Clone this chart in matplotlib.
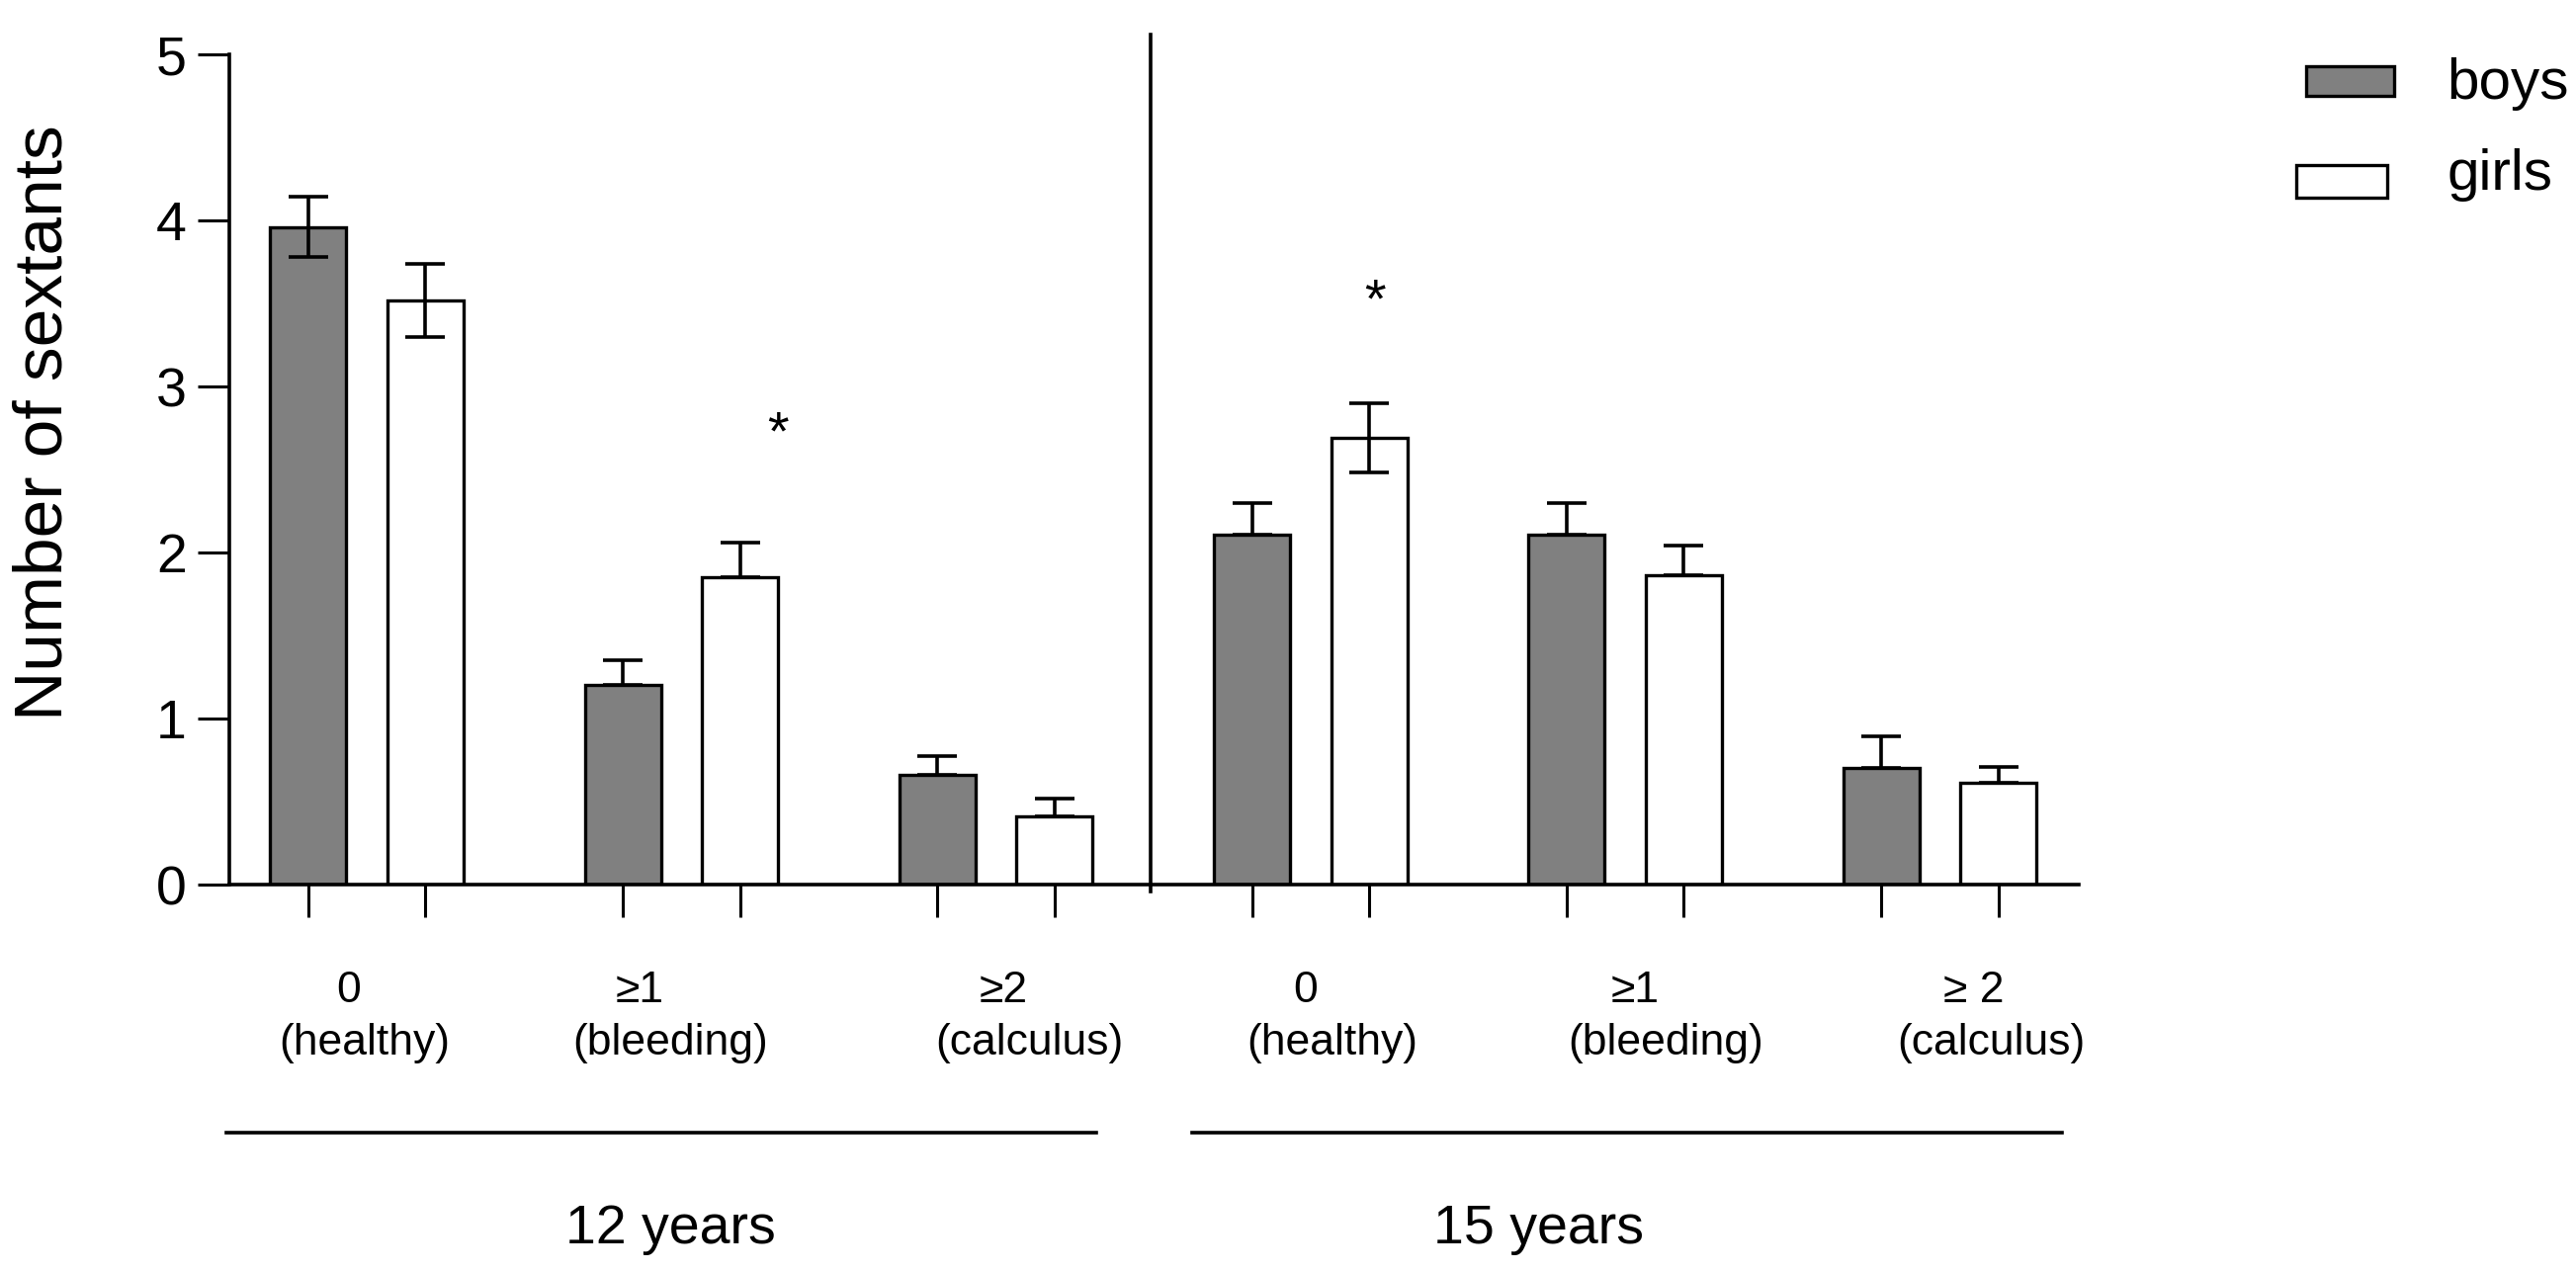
import matplotlib
matplotlib.use("Agg")
import matplotlib.pyplot as plt
from matplotlib.patches import Rectangle
import numpy as np

plt.rcParams['font.family'] = ['Liberation Sans', 'DejaVu Sans']

# ---------------- data ----------------
categories = ["0", "\u22651", "\u22652", "0", "\u22651", "\u2265 2"]
sublabels = ["(healthy)", "(bleeding)", "(calculus)", "(healthy)", "(bleeding)", "(calculus)"]
ages = ["12 years", "15 years"]
series = ["boys", "girls"]
boys = [3.96, 1.20, 0.66, 2.11, 2.11, 0.70]
girls = [3.52, 1.85, 0.41, 2.69, 1.865, 0.615]
boys_err = [0.18, 0.15, 0.115, 0.19, 0.19, 0.195]
girls_err = [0.22, 0.21, 0.11, 0.21, 0.175, 0.095]
boys_two_sided = [True, False, False, False, False, False]
girls_two_sided = [True, False, False, True, False, False]
star_groups = [1, 3]          # girls bars marked with *
star_values = [2.81, 3.61]    # height of the * mark
yticks = [0, 1, 2, 3, 4, 5]

# ---------------- layout (pixels of the 2606x1287 image) ----------------
W, H = 2606, 1287
PX = 318.3          # pixels per group
X0 = 371.0          # pixel x of group 0 centre
AX_L, AX_R, AX_B, AX_T = 232, 2103, 895, 55
PAIR_HALF = 59.25   # half distance between boys and girls bar centres (px)
BAR_W = 77          # bar width (px)
line1_off = [-18, -42, 8, -5, 10, 34]
line2_off = [-2, -11, 34, 22, 41, 52]
star_off = [38, 6]
age_px = [678, 1556]
group_line_px = [(229, 1109), (1206, 2086)]

def d(px):
    return (px - X0) / PX

def afy(py):
    return (AX_B - py) / (AX_B - AX_T)

fig = plt.figure(figsize=(W / 100, H / 100), dpi=100)
ax = fig.add_axes([AX_L / W, 1 - AX_B / H, (AX_R - AX_L) / W, (AX_B - AX_T) / H])

g = np.arange(len(boys))
off = PAIR_HALF / PX
bw = BAR_W / PX
lw = 2.4

ax.bar(g - off, boys, bw, color='#808080', edgecolor='black', linewidth=lw, zorder=2, label=series[0])
ax.bar(g + off, girls, bw, color='white', edgecolor='black', linewidth=lw, zorder=2, label=series[1])

b_low = [e if t else 0 for e, t in zip(boys_err, boys_two_sided)]
g_low = [e if t else 0 for e, t in zip(girls_err, girls_two_sided)]
ekw = dict(fmt='none', ecolor='black', elinewidth=2.6, capsize=14.4, capthick=2.6, zorder=3)
ax.errorbar(g - off, boys, yerr=[b_low, boys_err], **ekw)
ax.errorbar(g + off, girls, yerr=[g_low, girls_err], **ekw)

for sg, sv, so in zip(star_groups, star_values, star_off):
    ax.text(sg + off + so / PX, sv - 0.19, '*', ha='center', va='baseline', fontsize=40)

ax.set_xlim(d(AX_L), d(AX_R))
ax.set_ylim(0, 5)
ax.set_yticks(yticks)
ax.set_yticklabels([str(v) for v in yticks])
ax.set_xticks(np.concatenate([g - off, g + off]))
ax.set_xticklabels([])
ax.tick_params(axis='y', length=23, width=2.2, pad=8, labelsize=40, direction='out')
ax.tick_params(axis='x', length=24, width=2.2, direction='out')
for s in ['top', 'right']:
    ax.spines[s].set_visible(False)
for s in ['left', 'bottom']:
    ax.spines[s].set_linewidth(2.6)

# divider between age groups
ax.plot([2.49, 2.49], [-0.04, 5.12], color='black', lw=2.6, clip_on=False, zorder=4)

tr = ax.get_xaxis_transform()
for i in range(len(categories)):
    ax.text(i + line1_off[i] / PX, afy(1014), categories[i], transform=tr,
            ha='center', va='baseline', fontsize=32)
    ax.text(i + line2_off[i] / PX, afy(1067), sublabels[i], transform=tr,
            ha='center', va='baseline', fontsize=32)

for (a, b) in group_line_px:
    ax.plot([d(a), d(b)], [afy(1146), afy(1146)], transform=tr, color='black',
            lw=2.6, clip_on=False)
for lab, px in zip(ages, age_px):
    ax.text(d(px), afy(1258), lab, transform=tr, ha='center', va='baseline', fontsize=40)

# y label
fig.text(45 / W, 1 - 428 / H, 'Number of sextants', rotation=90, ha='center',
         va='center', fontsize=50)

# legend (manual)
fig.add_artist(Rectangle((2333 / W, 1 - 97 / H), 89 / W, 30 / H, transform=fig.transFigure,
                         facecolor='#808080', edgecolor='black', linewidth=2.4))
fig.add_artist(Rectangle((2323 / W, 1 - 200 / H), 92 / W, 33 / H, transform=fig.transFigure,
                         facecolor='white', edgecolor='black', linewidth=2.4))
fig.text(2475 / W, 1 - 100 / H, series[0], ha='left', va='baseline', fontsize=42)
fig.text(2475 / W, 1 - 192 / H, series[1], ha='left', va='baseline', fontsize=42)

fig.savefig('out.png', dpi=100)
